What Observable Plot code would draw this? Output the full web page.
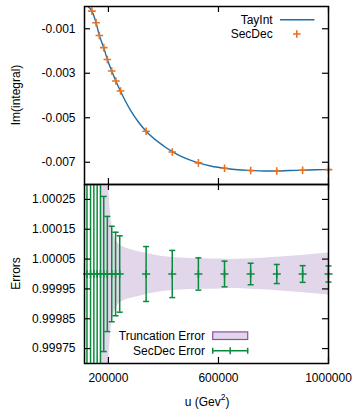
<!DOCTYPE html>
<html><head><meta charset="utf-8">
<script src="https://cdn.jsdelivr.net/npm/d3@7"></script>
<script src="https://cdn.jsdelivr.net/npm/@observablehq/plot@0.6"></script>
<style>
body{margin:0;background:#fff;}
#chart{position:relative;width:353px;height:409px;background:#fff;}
#chart svg{position:absolute;left:0;overflow:visible;}
</style></head><body><div id="chart"></div>
<script>
// ---- data ----
const secU = [140000,155000,167000,183000,196000,212000,227000,244000,337000,432000,527000,622000,717000,812000,906000,1000000];
const secV = [-0.00021,-0.00073,-0.00130,-0.00185,-0.00238,-0.00290,-0.00335,-0.00380,-0.00561,-0.00654,-0.00703,-0.00727,-0.00737,-0.00739,-0.00736,-0.00733];
const tayU = [126000,140000,155000,167000,183000,196000,212000,227000,244000,263000,281000,309000,337000,402000,432000,481000,527000,575000,622000,670000,717000,764000,812000,858000,906000,953000,1000000];
const tayV = [0.00000,-0.00021,-0.00073,-0.00130,-0.00185,-0.00238,-0.00290,-0.00335,-0.00381,-0.00428,-0.00468,-0.00519,-0.00561,-0.00628,-0.00652,-0.00683,-0.00703,-0.00718,-0.00727,-0.00734,-0.00737,-0.00739,-0.00739,-0.00737,-0.00736,-0.00734,-0.00733];
const errU = [122000,135000,147000,159000,171000,183000,196000,212000,226000,241000,337000,432000,527000,622000,717000,812000,906000,1000000];
const errE = [0.003,0.002,0.0012,0.0008,0.0005,0.00026,0.000193,0.00016,0.00014,0.000128,0.000092,0.000079,0.000054,0.000043,0.000036,0.000032,0.000028,0.000027];
const bandU = [172000,195000,201000,206000,213000,222000,235000,251000,290000,328000,370000,414000,462000,530000,608000,644000,700000,760000,826000,900000,1000000];
const bandE = [0.003,0.0008,0.00031,0.00022,0.00016,0.000125,0.000103,0.000092,0.00008,0.000071,0.000063,0.0000567,0.0000533,0.000051,0.00005,0.000049,0.00005,0.000053,0.0000567,0.000062,0.0000707];
const centerValue = 1;
const xTicks = [200000, 600000, 1000000];
const topYTicks = [-0.001,-0.003,-0.005,-0.007];
const botYTicks = [1.00025,1.00015,1.00005,0.99995,0.99985,0.99975];
const xDomain = [113000, 1000000];

// ---- styling ----
const FONT = '"Liberation Sans", Arial, Helvetica, sans-serif';
const BLUE = "#1f6ea6", ORANGE = "#e8701f", GREEN = "#0a8a3c", LAV = "#e2d6ea", PURPLE = "#8e4fa8";
const W = 353, ML = 84, MR = 25, FW = W - ML - MR;
const TL = 6;

const sym = (h, v) => ({draw(ctx, size){ const r = Math.sqrt(size/Math.PI);
  if (h) { ctx.moveTo(-r,0); ctx.lineTo(r,0); }
  if (v) { ctx.moveTo(0,-r); ctx.lineTo(0,r); } }});
const plusSym = sym(true,true), capSym = sym(true,false);

function tickMarks(fh, yTicks) {
  return [
    Plot.tickX(xTicks, {x: d=>d, insetTop: fh - TL, stroke:"#000", strokeWidth:1.2}),
    Plot.tickX(xTicks, {x: d=>d, insetBottom: fh - TL, stroke:"#000", strokeWidth:1.2}),
    Plot.tickY(yTicks, {y: d=>d, insetRight: FW - TL, stroke:"#000", strokeWidth:1.2}),
    Plot.tickY(yTicks, {y: d=>d, insetLeft: FW - TL, stroke:"#000", strokeWidth:1.2})
  ];
}
const chart = document.getElementById("chart");

// ---- top panel ----
const topH = 186, topMT = 6, topMB = 2, topFH = topH - topMT - topMB;
const tay = tayU.map((u,i)=>({u, v: tayV[i]}));
const sec = secU.map((u,i)=>({u, v: secV[i]}));
const topPlot = Plot.plot({
  width: W, height: topH, marginLeft: ML, marginRight: MR, marginTop: topMT, marginBottom: topMB,
  style: {fontFamily: FONT, fontSize: "12px", background: "transparent", color: "#000", overflow: "visible"},
  x: {domain: xDomain, axis: null},
  y: {domain: [-0.008, 0]},
  marks: [
    Plot.line(tay, {x:"u", y:"v", stroke: BLUE, strokeWidth: 1.4, curve: "monotone-x", clip: true}),
    Plot.dot(sec, {x:"u", y:"v", symbol: plusSym, r: 3.8, stroke: ORANGE, strokeWidth: 1.6}),
    ...tickMarks(topFH, topYTicks),
    Plot.axisY({ticks: topYTicks, tickFormat: d => d.toFixed(3), tickSize: 0, tickPadding: 9, label: null}),
    Plot.frame({stroke: "#000", strokeWidth: 1.5})
  ]
});
topPlot.style.top = "0px";
chart.appendChild(topPlot);

// ---- bottom panel ----
const botTop = 182, botH = 227, botMT = 2, botMB = 46, botFH = botH - botMT - botMB;
const err = errU.map((u,i)=>({u, e: errE[i]}));
const band = bandU.map((u,i)=>({u, e: bandE[i]}));
const yDomB = [0.9997, 1.0003];
const capsTop = err.filter(d => centerValue + d.e <= yDomB[1]);
const capsBot = err.filter(d => centerValue - d.e >= yDomB[0]);
const botPlot = Plot.plot({
  width: W, height: botH, marginLeft: ML, marginRight: MR, marginTop: botMT, marginBottom: botMB,
  style: {fontFamily: FONT, fontSize: "12px", background: "transparent", color: "#000", overflow: "visible"},
  x: {domain: xDomain},
  y: {domain: yDomB},
  marks: [
    Plot.areaY(band, {x:"u", y1: d => centerValue - d.e, y2: d => centerValue + d.e, fill: LAV, curve: "monotone-x", clip: true}),
    Plot.ruleX(err, {x:"u", y1: d => centerValue - d.e, y2: d => centerValue + d.e, stroke: GREEN, strokeWidth: 1.5, clip: true}),
    Plot.dot(capsTop, {x:"u", y: d => centerValue + d.e, symbol: capSym, r: 3, stroke: GREEN, strokeWidth: 1.5}),
    Plot.dot(capsBot, {x:"u", y: d => centerValue - d.e, symbol: capSym, r: 3, stroke: GREEN, strokeWidth: 1.5}),
    Plot.dot(err, {x:"u", y: () => centerValue, symbol: plusSym, r: 4, stroke: GREEN, strokeWidth: 1.5}),
    ...tickMarks(botFH, botYTicks),
    Plot.axisY({ticks: botYTicks, tickFormat: d => d.toFixed(5), tickSize: 0, tickPadding: 9, label: null}),
    Plot.axisX({ticks: xTicks, tickFormat: d => String(d), tickSize: 0, tickPadding: 10, label: null}),
    Plot.frame({stroke: "#000", strokeWidth: 1.5})
  ]
});
botPlot.style.top = botTop + "px";
chart.appendChild(botPlot);

// ---- labels and legends ----
const ts = d3.select(topPlot), bs = d3.select(botPlot);
function txt(sel, x, y, s, anchor, rot) {
  const t = sel.append("text").attr("text-anchor", anchor).attr("dominant-baseline", "central")
    .attr("font-family", FONT).attr("font-size", 12).attr("fill", "#000");
  if (rot) t.attr("transform", `translate(${x},${y}) rotate(-90)`); else t.attr("x", x).attr("y", y);
  t.text(s);
  return t;
}
txt(ts, 16, 95, "Im(integral)", "middle", true);
txt(bs, 16, 91.5, "Errors", "middle", true);
const xl = bs.append("text").attr("x", 207).attr("y", 401.5 - botTop).attr("text-anchor", "middle")
  .attr("dominant-baseline", "central").attr("font-family", FONT).attr("font-size", 12).attr("fill", "#000");
xl.append("tspan").text("u (Gev");
xl.append("tspan").attr("font-size", 8.5).attr("dy", -5).text("2");
xl.append("tspan").attr("dy", 5).text(")");

// top legend
txt(ts, 272.7, 19.5, "TayInt", "end");
ts.append("line").attr("x1", 280).attr("x2", 314.5).attr("y1", 19.7).attr("y2", 19.7).attr("stroke", BLUE).attr("stroke-width", 1.4);
txt(ts, 272.7, 34, "SecDec", "end");
ts.append("path").attr("d", "M293,34H300.6M296.8,30.2V37.8").attr("stroke", ORANGE).attr("stroke-width", 1.6).attr("fill", "none");

// bottom legend
const ly1 = 335.7 - botTop, ly2 = 350.7 - botTop;
txt(bs, 205, ly1, "Truncation Error", "end");
bs.append("rect").attr("x", 212.7).attr("y", ly1 - 3.8).attr("width", 35).attr("height", 7.6)
  .attr("fill", LAV).attr("stroke", PURPLE).attr("stroke-width", 1.2);
txt(bs, 205, ly2, "SecDec Error", "end");
bs.append("path").attr("d", `M212.7,${ly2}H247.7M212.7,${ly2-3}V${ly2+3}M247.7,${ly2-3}V${ly2+3}M230.2,${ly2-3.5}V${ly2+3.5}`)
  .attr("stroke", GREEN).attr("stroke-width", 1.5).attr("fill", "none");
</script></body></html>
